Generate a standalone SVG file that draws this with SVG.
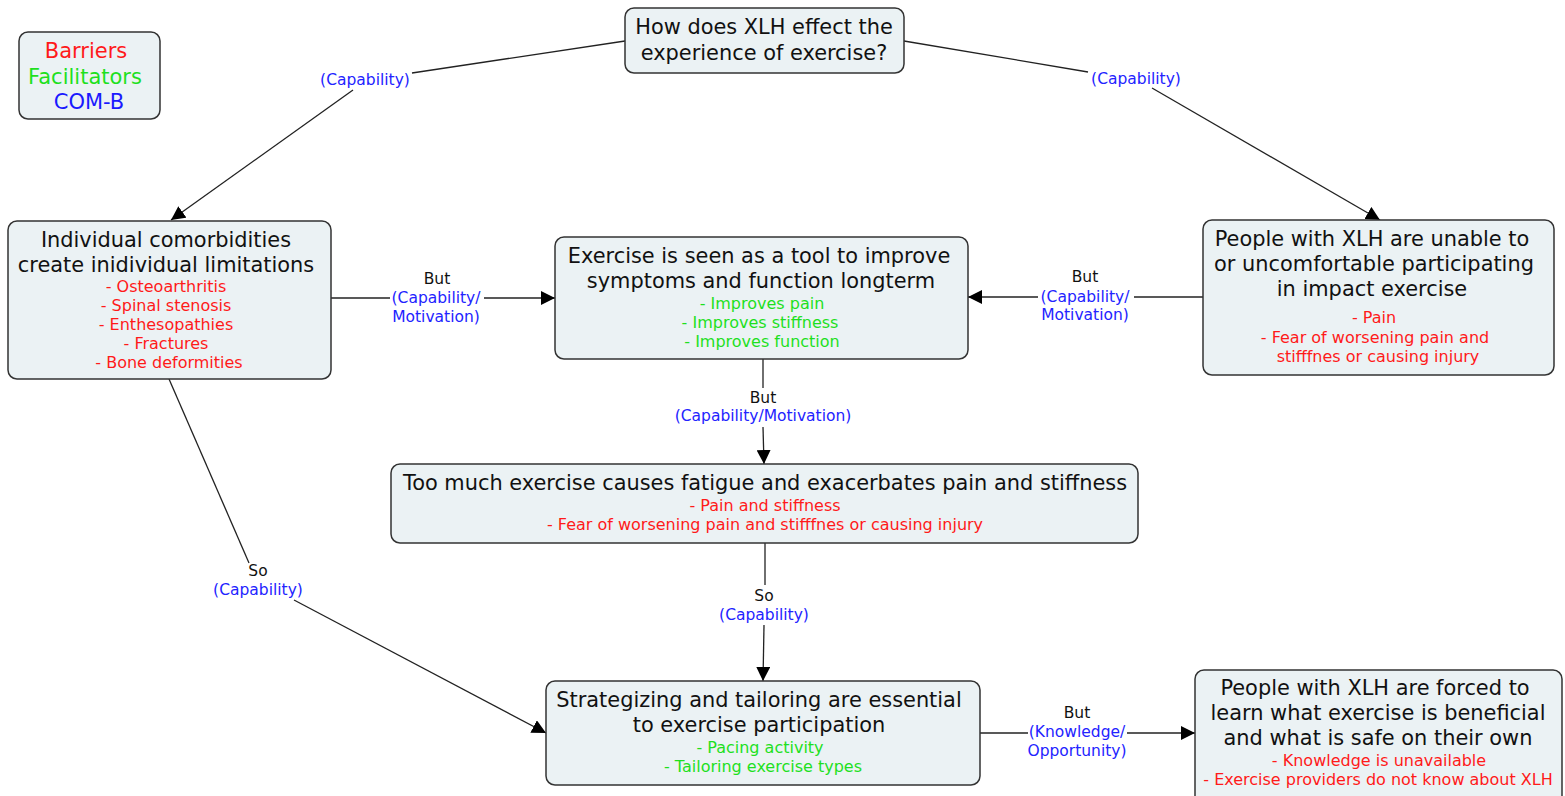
<svg xmlns="http://www.w3.org/2000/svg" width="1565" height="796" viewBox="0 0 1565 796">
<style>
.box{fill:#ebf2f4;stroke:#333;stroke-width:1.5}
text{font-family:"DejaVu Sans",Verdana,sans-serif;text-anchor:middle}
.t{font-size:20.9px;fill:#111}
.s{font-size:16px}
.r{fill:#ff1a1a}
.g{fill:#1ee01e}
.b{fill:#2323ff}
.l{font-size:15.5px;fill:#111}
.lb{font-size:15.5px;fill:#2323ff}
.lg{font-size:21px}
.c{stroke:#222;stroke-width:1.3;fill:none}
</style>
<defs>
<marker id="ah" viewBox="0 0 14 14" refX="14" refY="7" markerWidth="14" markerHeight="14" markerUnits="userSpaceOnUse" orient="auto">
<path d="M0,0 L14,7 L0,14 z" fill="#000"/>
</marker>
</defs>
<rect width="1565" height="796" fill="#fff"/>
<g id="connectors">
<line class="c" x1="625" y1="41" x2="412" y2="73"/>
<line class="c" x1="353" y1="90" x2="171" y2="220" marker-end="url(#ah)"/>
<text class="lb" x="365" y="85">(Capability)</text>
<line class="c" x1="904" y1="41" x2="1088" y2="72"/>
<line class="c" x1="1152" y1="88" x2="1380" y2="220" marker-end="url(#ah)"/>
<text class="lb" x="1136" y="84">(Capability)</text>
<line class="c" x1="331" y1="298" x2="390" y2="298"/>
<line class="c" x1="484" y1="298" x2="555" y2="298" marker-end="url(#ah)"/>
<text class="l" x="437" y="284">But</text>
<text class="lb" x="436" y="303">(Capability/</text>
<text class="lb" x="436" y="322">Motivation)</text>
<line class="c" x1="1203" y1="297" x2="1134" y2="297"/>
<line class="c" x1="1038" y1="297" x2="968" y2="297" marker-end="url(#ah)"/>
<text class="l" x="1085" y="282">But</text>
<text class="lb" x="1085" y="302">(Capability/</text>
<text class="lb" x="1085" y="320">Motivation)</text>
<line class="c" x1="763" y1="359" x2="763" y2="388"/>
<line class="c" x1="763" y1="427" x2="764" y2="464" marker-end="url(#ah)"/>
<text class="l" x="763" y="403">But</text>
<text class="lb" x="763" y="421">(Capability/Motivation)</text>
<line class="c" x1="765" y1="543" x2="765" y2="585"/>
<line class="c" x1="764" y1="625" x2="763" y2="681" marker-end="url(#ah)"/>
<text class="l" x="764" y="601">So</text>
<text class="lb" x="764" y="620">(Capability)</text>
<line class="c" x1="169" y1="379" x2="249" y2="563"/>
<line class="c" x1="294" y1="600" x2="546" y2="733" marker-end="url(#ah)"/>
<text class="l" x="258" y="576">So</text>
<text class="lb" x="258" y="595">(Capability)</text>
<line class="c" x1="980" y1="733" x2="1028" y2="733"/>
<line class="c" x1="1127" y1="733" x2="1195" y2="733" marker-end="url(#ah)"/>
<text class="l" x="1077" y="718">But</text>
<text class="lb" x="1077" y="737">(Knowledge/</text>
<text class="lb" x="1077" y="756">Opportunity)</text>
</g>
<g id="legend">
<rect class="box" x="19" y="32" width="141" height="87" rx="9"/>
<text class="lg" x="86" y="58" fill="#ff1a1a">Barriers</text>
<text class="lg" x="85" y="84" fill="#1ee01e">Facilitators</text>
<text class="lg" x="89" y="109" fill="#1a1aff">COM-B</text>
</g>
<g id="n-top">
<rect class="box" x="625" y="8" width="279" height="65" rx="9"/>
<text class="t" x="764" y="34">How does XLH effect the</text>
<text class="t" x="764" y="60">experience of exercise?</text>
</g>
<g id="n-left">
<rect class="box" x="8" y="221" width="323" height="158" rx="9"/>
<text class="t" x="166" y="247">Individual comorbidities</text>
<text class="t" x="166" y="272">create inidividual limitations</text>
<text class="s r" x="166" y="292">- Osteoarthritis</text>
<text class="s r" x="166" y="311">- Spinal stenosis</text>
<text class="s r" x="166" y="330">- Enthesopathies</text>
<text class="s r" x="166" y="349">- Fractures</text>
<text class="s r" x="169" y="368">- Bone deformities</text>
</g>
<g id="n-center">
<rect class="box" x="555" y="237" width="413" height="122" rx="9"/>
<text class="t" x="759" y="263">Exercise is seen as a tool to improve</text>
<text class="t" x="761" y="288">symptoms and function longterm</text>
<text class="s g" x="762" y="309">- Improves pain</text>
<text class="s g" x="760" y="328">- Improves stiffness</text>
<text class="s g" x="762" y="347">- Improves function</text>
</g>
<g id="n-right">
<rect class="box" x="1203" y="220" width="351" height="155" rx="9"/>
<text class="t" x="1372" y="246">People with XLH are unable to</text>
<text class="t" x="1374" y="271">or uncomfortable participating</text>
<text class="t" x="1372" y="296">in impact exercise</text>
<text class="s r" x="1374" y="323">- Pain</text>
<text class="s r" x="1375" y="343">- Fear of worsening pain and</text>
<text class="s r" x="1378" y="362">stifffnes or causing injury</text>
</g>
<g id="n-middle">
<rect class="box" x="391" y="464" width="747" height="79" rx="9"/>
<text class="t" x="765" y="490">Too much exercise causes fatigue and exacerbates pain and stiffness</text>
<text class="s r" x="765" y="511">- Pain and stiffness</text>
<text class="s r" x="765" y="530">- Fear of worsening pain and stifffnes or causing injury</text>
</g>
<g id="n-bottom">
<rect class="box" x="546" y="681" width="434" height="104" rx="9"/>
<text class="t" x="759" y="707">Strategizing and tailoring are essential</text>
<text class="t" x="759" y="732">to exercise participation</text>
<text class="s g" x="760" y="753">- Pacing activity</text>
<text class="s g" x="763" y="772">- Tailoring exercise types</text>
</g>
<g id="n-bottom-right">
<rect class="box" x="1195" y="670" width="367" height="135" rx="9"/>
<text class="t" x="1375" y="695">People with XLH are forced to</text>
<text class="t" x="1378" y="720">learn what exercise is beneficial</text>
<text class="t" x="1378" y="745">and what is safe on their own</text>
<text class="s r" x="1379" y="766">- Knowledge is unavailable</text>
<text class="s r" x="1378" y="785">- Exercise providers do not know about XLH</text>
</g>
</svg>
